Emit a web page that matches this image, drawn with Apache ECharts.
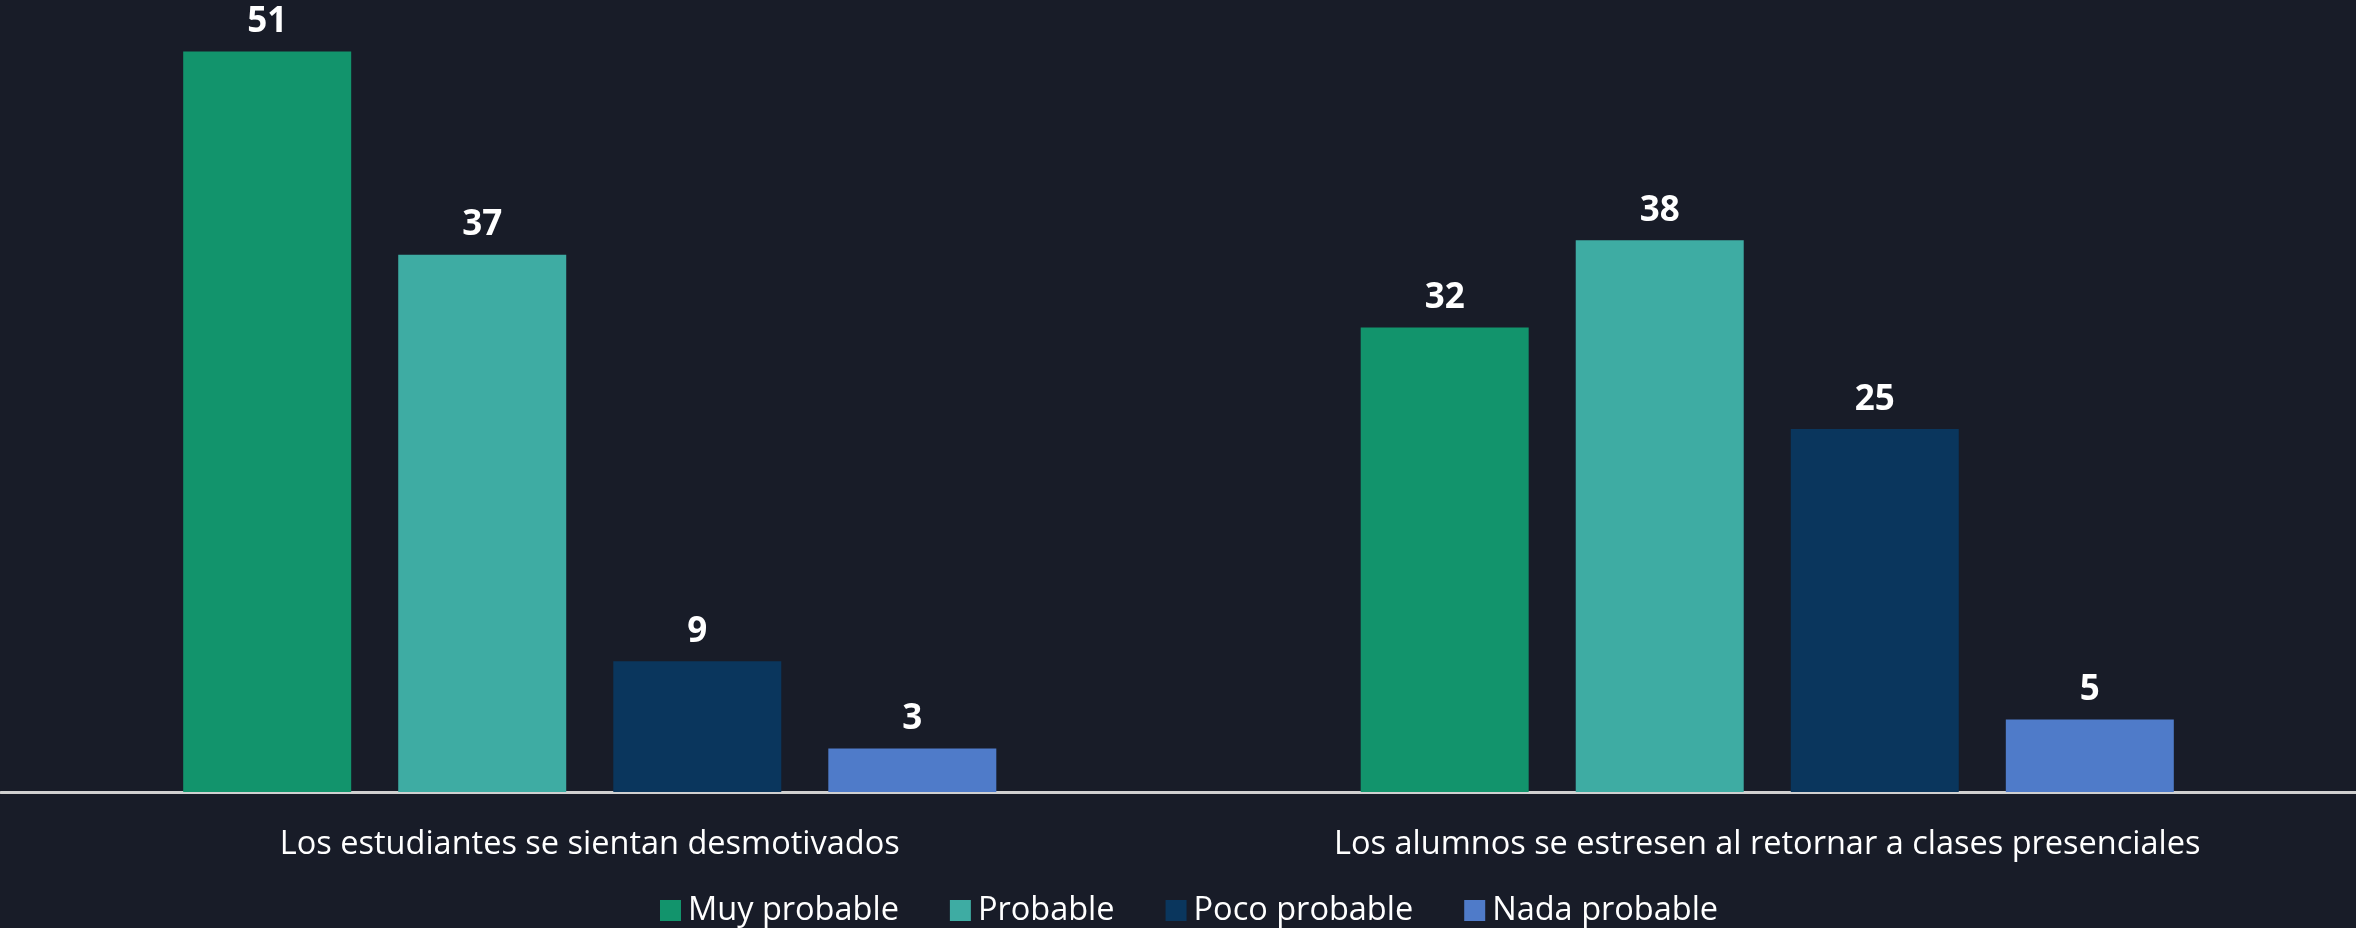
<!DOCTYPE html>
<html>
<head>
<meta charset="utf-8">
<style>
  html, body { margin: 0; padding: 0; background: #181c28; }
  #chart { width: 2356px; height: 928px; }
</style>
<script src="https://cdn.jsdelivr.net/npm/echarts@6/dist/echarts.min.js"></script>
</head>
<body>
<div id="chart"></div>
<script>
const categories = ['Los estudiantes se sientan desmotivados', 'Los alumnos se estresen al retornar a clases presenciales'];
const seriesNames = ['Muy probable', 'Probable', 'Poco probable', 'Nada probable'];
const muyProbable = [51, 32];
const probable = [37, 38];
const pocoProbable = [9, 25];
const nadaProbable = [3, 5];
const colors = ['#12946c', '#3eaca3', '#0a365d', '#4f7bc9'];

const values = [muyProbable, probable, pocoProbable, nadaProbable];
const textFont = "'Open Sans', sans-serif";

const chart = echarts.init(document.getElementById('chart'));

function getSeries() {
    let arr = [];
    seriesNames.forEach((name, i) => {
        arr.push({
            name: name,
            type: 'bar',
            data: values[i],
            barWidth: 168,
            barGap: '28%',
            itemStyle: { color: colors[i] },
            label: {
                show: true,
                position: 'top',
                distance: 12,
                color: '#ffffff',
                fontFamily: textFont,
                fontWeight: 'bold',
                fontSize: 35
            }
        });
    });
    return arr;
}

chart.setOption({
    backgroundColor: '#181c28',
    animation: false,
    grid: { left: 1, width: 2362, top: 8, bottom: 136 },
    legend: {
        data: seriesNames,
        bottom: -4,
        left: 655,
        itemWidth: 21,
        itemHeight: 21,
        itemGap: 51,
        icon: 'rect',
        textStyle: { color: '#ffffff', fontFamily: textFont, fontSize: 32.5, padding: [0, 0, 0, 2] }
    },
    xAxis: {
        type: 'category',
        data: categories,
        axisLine: { lineStyle: { color: '#d0d0d0', width: 3 } },
        axisTick: { show: false },
        axisLabel: { color: '#ffffff', fontFamily: textFont, fontSize: 32.5, margin: 36 }
    },
    yAxis: {
        type: 'value',
        min: 0,
        max: 54,
        show: false,
        splitLine: { show: false }
    },
    series: getSeries()
});
</script>
</body>
</html>
